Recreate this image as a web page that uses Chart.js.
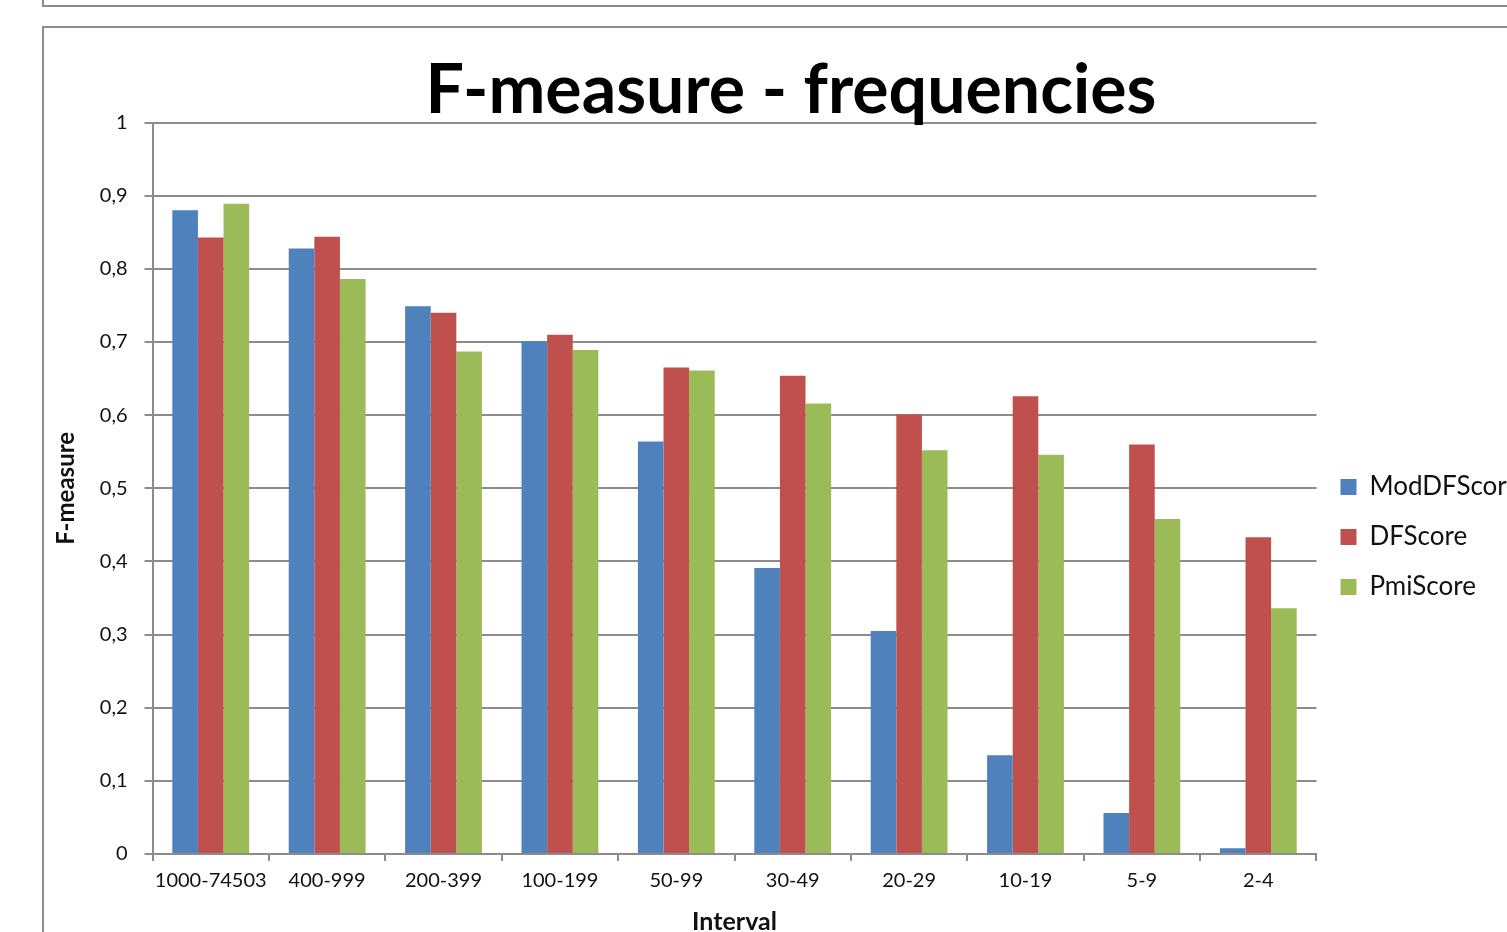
<!DOCTYPE html>
<html>
<head>
<meta charset="utf-8">
<script src="https://cdn.jsdelivr.net/npm/chart.js@4.4.1/dist/chart.umd.min.js"></script>
<style>
  html, body { margin: 0; padding: 0; background: #fff; overflow: hidden; width: 1507px; height: 932px; }
  .prev-box { position: absolute; left: 42px; top: -20px; width: 1500px; height: 23px; border: 2px solid #8c8c8c; }
  .frame { position: absolute; left: 42px; top: 26px; width: 1560px; height: 1020px; border: 2px solid #8c8c8c; }
  .chart-wrap { position: absolute; left: 0; top: 0; width: 1486px; height: 996px; }
</style>
</head>
<body>
<div class="prev-box"></div>
<div class="frame">
  <div class="chart-wrap"><canvas id="fmeasureChart"></canvas></div>
</div>
<script>
// Chart data
const intervals = ['1000-74503', '400-999', '200-399', '100-199', '50-99', '30-49', '20-29', '10-19', '5-9', '2-4'];
const modDFScore = [0.880, 0.828, 0.749, 0.701, 0.564, 0.391, 0.305, 0.135, 0.056, 0.008];
const dfScore = [0.843, 0.844, 0.740, 0.710, 0.665, 0.654, 0.601, 0.626, 0.560, 0.433];
const pmiScore = [0.889, 0.786, 0.687, 0.689, 0.661, 0.616, 0.552, 0.546, 0.458, 0.336];
const yTicks = [0, 0.1, 0.2, 0.3, 0.4, 0.5, 0.6, 0.7, 0.8, 0.9, 1];

const fontFamily = 'Lato, "Open Sans", sans-serif';
const gridColor = '#8c8c8c';
const textColor = '#111';

const ctx = document.getElementById('fmeasureChart').getContext('2d');
window.fmeasureChart = new Chart(ctx, {
    type: 'bar',
    data: {
        labels: intervals,
        datasets: [{
            label: 'ModDFScore',
            data: modDFScore,
            backgroundColor: '#4F81BD'
        }, {
            label: 'DFScore',
            data: dfScore,
            backgroundColor: '#C0504D'
        }, {
            label: 'PmiScore',
            data: pmiScore,
            backgroundColor: '#9BBB59'
        }]
    },
    options: {
        responsive: true,
        maintainAspectRatio: false,
        animation: false,
        layout: {
            padding: { left: 8, top: 22, right: 0, bottom: 0 }
        },
        datasets: {
            bar: {
                categoryPercentage: 0.66,
                barPercentage: 1
            }
        },
        plugins: {
            title: {
                display: true,
                text: 'F-measure - frequencies',
                color: '#000',
                font: { family: fontFamily, size: 68, weight: 'bold' },
                padding: { top: 0, bottom: -9 }
            },
            legend: {
                position: 'right',
                align: 'center',
                labels: {
                    color: textColor,
                    boxWidth: 16,
                    boxHeight: 16,
                    padding: 24,
                    font: { family: fontFamily, size: 26 }
                }
            },
            tooltip: { enabled: false }
        },
        scales: {
            x: {
                offset: true,
                grid: {
                    offset: true,
                    drawOnChartArea: false,
                    drawTicks: true,
                    tickLength: 7,
                    color: gridColor,
                    lineWidth: 2
                },
                border: { color: gridColor, width: 2 },
                ticks: {
                    color: textColor,
                    padding: 8,
                    maxRotation: 0,
                    autoSkip: false,
                    font: { family: fontFamily, size: 20 }
                },
                title: {
                    display: true,
                    text: 'Interval',
                    color: textColor,
                    font: { family: fontFamily, size: 25, weight: 'bold' },
                    padding: { top: 6, bottom: 87 }
                }
            },
            y: {
                min: 0,
                max: 1,
                afterBuildTicks: axis => {
                    axis.ticks = yTicks.map(v => ({ value: v }));
                },
                grid: {
                    color: gridColor,
                    lineWidth: 2,
                    tickLength: 8
                },
                border: { color: gridColor, width: 2 },
                ticks: {
                    color: textColor,
                    padding: 17,
                    font: { family: fontFamily, size: 20 },
                    callback: v => String(Math.round(v * 10) / 10).replace('.', ',')
                },
                title: {
                    display: true,
                    text: 'F-measure',
                    color: textColor,
                    font: { family: fontFamily, size: 24, weight: 'bold' },
                    padding: { top: 0, bottom: 2 }
                }
            }
        }
    }
});
</script>
</body>
</html>
